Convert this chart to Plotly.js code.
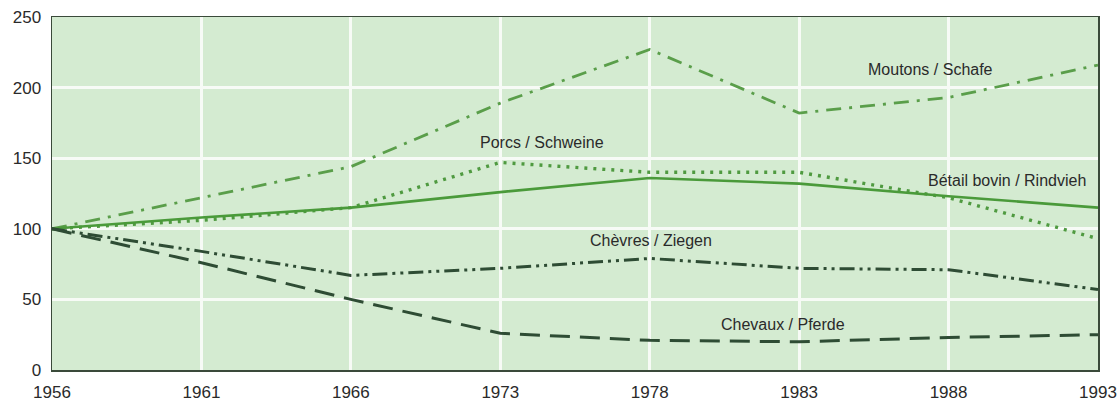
<!DOCTYPE html>
<html>
<head>
<meta charset="utf-8">
<script src="https://cdn.plot.ly/plotly-3.0.1.min.js"></script>
<style>
html,body{margin:0;padding:0;background:#fff;}
#chart{width:1117px;height:403px;}
</style>
</head>
<body>
<div id="chart"></div>
<script>
var years = ['1956','1961','1966','1973','1978','1983','1988','1993'];
var moutons = [100, 122, 144, 189, 227, 182, 193, 216];
var porcs   = [100, 106, 115, 147, 140, 140, 122, 93];
var betail  = [100, 108, 115, 126, 136, 132, 123, 115];
var chevres = [100, 84, 67, 72, 79, 72, 71, 57];
var chevaux = [100, 76, 50, 26, 21, 20, 23, 25];
var seriesNames = ['Moutons / Schafe','Porcs / Schweine','Bétail bovin / Rindvieh','Chèvres / Ziegen','Chevaux / Pferde'];

function tr(y, color, dash, width){
  return {x: years, y: y, type:'scatter', mode:'lines',
    line:{color:color, dash:dash, width:width}, hoverinfo:'skip', showlegend:false};
}
var data = [
  tr(moutons, '#5a9e4a', '15px,8px,3px,8px', 2.8),
  tr(porcs,   '#4f9a40', '3px,6px', 3.4),
  tr(betail,  '#4a9a3a', 'solid', 2.6),
  tr(chevres, '#2e4c34', '15px,5px,3px,5px,3px,5px', 3),
  tr(chevaux, '#2e4c34', '20px,10px', 3)
];

var fontFam = '"Liberation Sans Narrow", "Arial Narrow", "Liberation Sans", Arial, sans-serif';
function ann(text, xi, y){
  return {text:text, x:xi, y:y, xref:'x', yref:'y', showarrow:false,
    font:{family:fontFam, size:16, color:'#2a2a2a'}};
}
var annotations = [
  ann(seriesNames[0], 5.88, 213),
  ann(seriesNames[1], 3.28, 161),
  ann(seriesNames[2], 6.39, 134),
  ann(seriesNames[3], 4.01, 92),
  ann(seriesNames[4], 4.89, 32)
];

var layout = {
  width:1117, height:403,
  margin:{l:52, r:19, t:17, b:33},
  paper_bgcolor:'#ffffff',
  plot_bgcolor:'#d4ebd1',
  font:{family:fontFam, size:17, color:'#2a2a2a'},
  xaxis:{type:'category', range:[0,7], showgrid:true, gridcolor:'#f7fbf6', gridwidth:3,
    showline:true, linecolor:'#3a4a3a', linewidth:1.5, mirror:true, ticks:'', ticklabelstandoff:6,
    tickfont:{family:fontFam, size:17, color:'#2a2a2a'}, zeroline:false, fixedrange:true},
  yaxis:{range:[0,250], tickvals:[0,50,100,150,200,250], showgrid:true, gridcolor:'#f7fbf6', gridwidth:3,
    showline:true, linecolor:'#3a4a3a', linewidth:1.5, mirror:true, ticks:'', zeroline:false, ticklabelstandoff:6,
    tickfont:{family:fontFam, size:17, color:'#2a2a2a'}, fixedrange:true},
  annotations: annotations,
  showlegend:false
};
Plotly.newPlot('chart', data, layout, {displayModeBar:false, staticPlot:true});
</script>
</body>
</html>
